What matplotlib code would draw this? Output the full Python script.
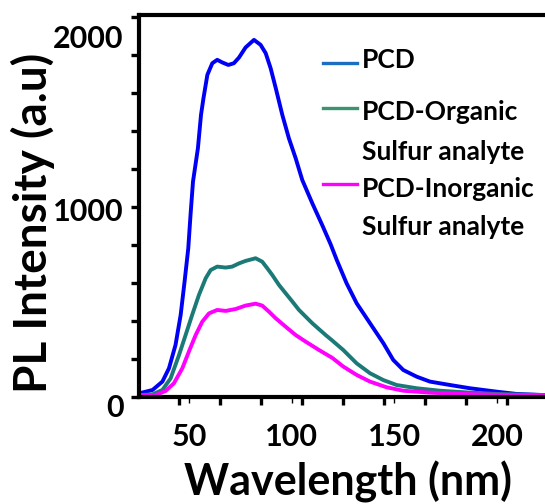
import matplotlib
matplotlib.use('Agg')
import matplotlib.pyplot as plt
from matplotlib.lines import Line2D
from matplotlib.transforms import ScaledTranslation
from matplotlib.ticker import MultipleLocator

plt.rcParams['font.family'] = ['Lato', 'DejaVu Sans']
plt.rcParams['font.weight'] = 'bold'

# PCD
pcd_x = [25.7, 32.3, 37.1, 40.3, 43.5, 46.0, 47.9, 49.7, 50.8, 52.0, 54.4, 55.9, 57.1, 59.0,
         61.4, 63.8, 66.3, 69.2, 71.9, 74.4, 77.6, 81.7, 84.9, 87.4, 89.8, 92.3, 95.5, 98.7,
         102.0, 105.2, 110.1, 114.9, 119.0, 122.0, 126.8, 131.7, 138.2, 144.7, 149.5, 154.4,
         160.9, 167.4, 177.2, 186.9, 199.9, 209.6, 223.4]
pcd_y = [19, 37, 81, 151, 274, 432, 607, 782, 958, 1133, 1309, 1484, 1572, 1695,
         1756, 1774, 1760, 1747, 1756, 1786, 1839, 1879, 1853, 1809, 1730, 1625, 1484, 1361,
         1256, 1142, 1019, 905, 804, 721, 598, 493, 388, 283, 195, 142,
         107, 81, 63, 46, 28, 16, 10]

# PCD-Organic sulfur analyte
org_x = [25.7, 32.3, 37.1, 41.1, 45.2, 48.4, 51.6, 54.9, 58.2, 60.6, 63.8, 67.9, 71.1, 74.4,
         77.6, 82.5, 85.7, 88.2, 90.6, 93.9, 97.1, 100.4, 103.6, 110.1, 116.6, 119.5, 125.2,
         131.7, 138.2, 144.7, 151.2, 160.9, 172.3, 186.9, 199.9, 223.4]
org_y = [10, 14, 37, 98, 221, 326, 432, 537, 625, 668, 686, 681, 686, 703,
         716, 730, 712, 677, 642, 589, 546, 502, 458, 388, 326, 300, 247,
         177, 125, 89, 63, 46, 33, 23, 16, 10]

# PCD-Inorganic sulfur analyte
inorg_x = [25.7, 33.8, 38.7, 42.7, 46.8, 50.0, 53.3, 56.5, 59.8, 63.8, 67.9, 72.8, 77.6, 82.5,
           85.7, 89.0, 92.3, 97.1, 102.0, 106.9, 113.4, 119.8, 125.2, 131.7, 138.2, 146.3,
           154.4, 167.4, 183.6, 199.9, 223.4]
inorg_y = [10, 10, 32, 72, 151, 239, 326, 396, 440, 458, 453, 463, 481, 491,
           481, 449, 414, 370, 326, 291, 247, 206, 160, 116, 81, 51,
           33, 23, 16, 12, 9]

xticks = [50, 100, 150, 200]
yticks = [0, 1000, 2000]
ylab_shift = [6, 2, 14]   # tick labels sit a bit low in the original

fig = plt.figure(figsize=(5.45, 5.04), dpi=100)
ax = fig.add_axes([0.255, 0.2123, 0.745, 0.758])

ax.plot(pcd_x, pcd_y, color='#0000f5', lw=2.8, solid_capstyle='round')
ax.plot(org_x, org_y, color='#1b7a78', lw=2.8, solid_capstyle='round')
ax.plot(inorg_x, inorg_y, color='#ff00ff', lw=2.8, solid_capstyle='round')

ax.set_xlim(25.7, 223.4)
ax.set_ylim(0, 2010)

ax.spines['right'].set_visible(False)
for s in ['left', 'bottom', 'top']:
    ax.spines[s].set_linewidth(3)

ax.set_xticks(xticks)
ax.set_xticklabels([str(v) for v in xticks])
ax.set_xticks([45 + 20 * i for i in range(9)], minor=True)
ax.tick_params(axis='x', which='major', length=4, width=1, pad=15, labelsize=22)
ax.tick_params(axis='x', which='minor', length=6, width=2.4)

ax.set_yticks(yticks)
ax.set_yticklabels([str(v) for v in yticks])
ax.yaxis.set_minor_locator(MultipleLocator(200))
ax.tick_params(axis='y', which='both', length=6, width=2.4)
ax.tick_params(axis='y', which='major', pad=5, labelsize=22)

for lab, dy in zip(ax.get_yticklabels(), ylab_shift):
    lab.set_transform(lab.get_transform() + ScaledTranslation(0, -dy / 72, fig.dpi_scale_trans))

ax.set_xlabel('Wavelength (nm)', fontsize=31, fontweight='bold')
ax.xaxis.set_label_coords(0.515, -0.168)
ax.set_ylabel('PL Intensity (a.u)', fontsize=33, fontweight='bold')
ax.yaxis.set_label_coords(-0.208, 0.455)

# legend, built by hand so the keys line up with the first text line
entries = [('#1b6ec2', 0.874, [(0.862, 'PCD')]),
           ('#3a9470', 0.757, [(0.725, 'PCD-Organic'), (0.620, 'Sulfur analyte')]),
           ('#ff00ff', 0.558, [(0.524, 'PCD-Inorganic'), (0.424, 'Sulfur analyte')])]
for col, ly, lines in entries:
    ax.add_line(Line2D([0.453, 0.537], [ly, ly], color=col, lw=2.4, transform=ax.transAxes))
    for ty, txt in lines:
        ax.text(0.549, ty, txt, transform=ax.transAxes, fontsize=19, fontweight='bold',
                va='baseline', ha='left')

fig.savefig('out.png', dpi=100)
